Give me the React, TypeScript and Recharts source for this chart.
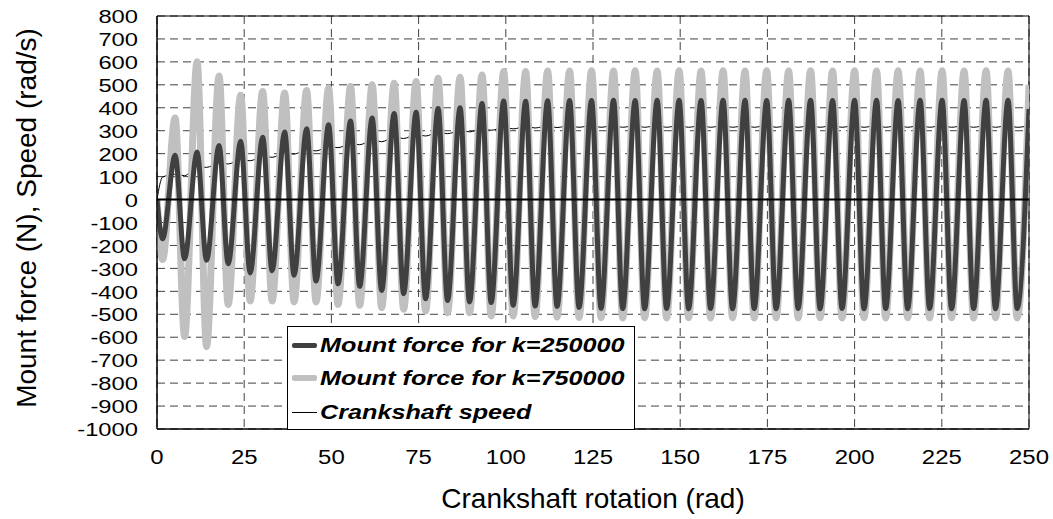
import React from 'react';
import {
  LineChart,
  Line,
  XAxis,
  YAxis,
  CartesianGrid,
  ReferenceLine,
  ReferenceArea,
  Legend,
  Label,
} from 'recharts';

// crank angle samples (rad): start, then trough / peak of each force cycle
const angles = [
  0,
  1.6, 5.2, 7.9, 11.5, 14.2, 17.8, 20.4, 24.0, 26.7, 30.3,
  33.0, 36.6, 39.3, 42.9, 45.6, 49.2, 51.9, 55.5, 58.1, 61.7,
  64.4, 68.0, 70.7, 74.3, 77.0, 80.6, 83.3, 86.9, 89.6, 93.2,
  95.8, 99.4, 102.1, 105.7, 108.4, 112.0, 114.7, 118.3, 121.0, 124.6,
  127.3, 130.9, 133.5, 137.1, 139.8, 143.4, 146.1, 149.7, 152.4, 156.0,
  158.7, 162.3, 165.0, 168.6, 171.2, 174.8, 177.5, 181.1, 183.8, 187.4,
  190.1, 193.7, 196.4, 200.0, 202.7, 206.3, 208.9, 212.5, 215.2, 218.8,
  221.5, 225.1, 227.8, 231.4, 234.1, 237.7, 240.4, 244.0, 246.6, 250,
];

// mount force, k = 250000 (N)
const forceK250 = [
  0,
  -171, 193, -258, 207, -265, 236, -280, 254, -320, 272,
  -310, 294, -330, 309, -355, 326, -367, 342, -378, 355,
  -396, 375, -410, 380, -432, 397, -440, 400, -446, 419,
  -449, 430, -461, 428, -464, 431, -466, 432, -470, 432,
  -474, 433, -475, 432, -476, 433, -475, 433, -476, 432,
  -475, 433, -476, 433, -475, 432, -476, 433, -475, 433,
  -476, 432, -475, 433, -476, 433, -475, 432, -476, 433,
  -475, 433, -476, 432, -475, 433, -476, 433, -475, 395,
];

// mount force, k = 750000 (N)
const forceK750 = [
  0,
  -261, 355, -597, 601, -641, 539, -457, 455, -442, 471,
  -442, 464, -446, 475, -446, 486, -457, 493, -461, 500,
  -471, 507, -478, 514, -486, 529, -493, 533, -493, 543,
  -507, 558, -507, 558, -510, 560, -512, 560, -514, 561,
  -515, 560, -516, 561, -515, 560, -516, 561, -515, 560,
  -516, 561, -515, 560, -516, 561, -515, 560, -516, 561,
  -515, 560, -516, 561, -515, 560, -516, 561, -515, 560,
  -516, 561, -515, 560, -516, 561, -515, 560, -516, 500,
];

// crankshaft speed (rad/s)
const crankSpeed = [
  0,
  98, 110, 104, 145, 140, 160, 155, 174, 169, 189,
  184, 203, 198, 217, 212, 231, 226, 244, 239, 258,
  252, 272, 266, 283, 277, 293, 287, 301, 295, 308,
  302, 314, 308, 318, 312, 321, 314, 322, 315, 323,
  315, 323, 315, 323, 315, 323, 315, 323, 315, 323,
  315, 323, 315, 323, 315, 323, 315, 323, 315, 323,
  315, 323, 315, 323, 315, 323, 315, 323, 315, 323,
  315, 323, 315, 323, 315, 323, 315, 323, 315, 322,
];

const xTicks = [0, 25, 50, 75, 100, 125, 150, 175, 200, 225, 250];
const yTicks = [
  -1000, -900, -800, -700, -600, -500, -400, -300, -200, -100,
  0, 100, 200, 300, 400, 500, 600, 700, 800,
];

const legendItems = [
  { label: 'Mount force for k=250000', color: '#404040', width: 5 },
  { label: 'Mount force for k=750000', color: '#c0c0c0', width: 6 },
  { label: 'Crankshaft speed', color: '#000000', width: 1 },
];

const FONT = '"Liberation Sans", Arial, sans-serif';

const data = angles.map((x, i) => ({
  x,
  k250: forceK250[i],
  k750: forceK750[i],
  speed: crankSpeed[i],
}));

const YTick = (props: any) => {
  const { y, payload } = props;
  return (
    <text
      transform={`translate(138,${y + 1}) scale(1.25,1)`}
      textAnchor="end"
      dominantBaseline="central"
      fontSize={19}
      fontFamily={FONT}
      fill="#000"
    >
      {payload.value}
    </text>
  );
};

const XTick = (props: any) => {
  const { x, payload } = props;
  return (
    <text
      transform={`translate(${x},457) scale(1.14,1)`}
      textAnchor="middle"
      dominantBaseline="central"
      fontSize={21}
      fontFamily={FONT}
      fill="#000"
    >
      {payload.value}
    </text>
  );
};

const renderLegend = () => (
  <div
    style={{
      position: 'relative',
      width: 348,
      height: 104,
      boxSizing: 'border-box',
      border: '1px solid #000',
      background: '#fff',
      fontFamily: FONT,
    }}
  >
    {legendItems.map((item, i) => {
      const center = [19, 52, 86][i];
      return (
        <React.Fragment key={item.label}>
          <div
            style={{
              position: 'absolute',
              left: 4,
              top: center - item.width / 2 - 1,
              width: 25,
              height: item.width,
              background: item.color,
              borderRadius: item.width > 2 ? 2 : 0,
            }}
          />
          <div
            style={{
              position: 'absolute',
              left: 32,
              top: center - 13,
              lineHeight: '24px',
              fontSize: 21,
              fontWeight: 'bold',
              fontStyle: 'italic',
              whiteSpace: 'nowrap',
              transform: 'scaleX(1.2)',
              transformOrigin: 'left center',
              color: '#000',
            }}
          >
            {item.label}
          </div>
        </React.Fragment>
      );
    })}
  </div>
);

const App: React.FC = () => {
  return (
    <div style={{ position: 'absolute', left: 0, top: 0, width: 1053, height: 519, background: '#fff' }}>
      <LineChart width={1053} height={519} data={data} margin={{ top: 16, right: 24, left: 0, bottom: 0 }}>
        <CartesianGrid stroke="#404040" strokeDasharray="8 5" />
        <XAxis
          dataKey="x"
          type="number"
          domain={[0, 250]}
          ticks={xTicks}
          interval={0}
          height={90}
          tick={<XTick />}
          tickLine={false}
          axisLine={{ stroke: '#000' }}
          allowDataOverflow
        >
          <Label
            content={() => (
              <text x={593} y={508} textAnchor="middle" fontSize={28} fontFamily={FONT} fill="#000">
                Crankshaft rotation (rad)
              </text>
            )}
          />
        </XAxis>
        <YAxis
          type="number"
          domain={[-1000, 800]}
          ticks={yTicks}
          interval={0}
          width={157}
          tick={<YTick />}
          tickLine={false}
          axisLine={{ stroke: '#000' }}
          allowDataOverflow
        >
          <Label
            content={() => (
              <text
                transform="translate(36,218) rotate(-90)"
                textAnchor="middle"
                fontSize={28}
                fontFamily={FONT}
                fill="#000"
              >
                Mount force (N), Speed (rad/s)
              </text>
            )}
          />
        </YAxis>
        <ReferenceArea x1={0} x2={250} y1={-1000} y2={800} fill="none" fillOpacity={0} stroke="#000" strokeWidth={1} />
        <Line type="monotone" dataKey="speed" stroke="#000" strokeWidth={1} dot={false} isAnimationActive={false} />
        <Line type="monotone" dataKey="k750" stroke="#c0c0c0" strokeWidth={7} dot={false} isAnimationActive={false} />
        <Line type="monotone" dataKey="k250" stroke="#404040" strokeWidth={5} dot={false} isAnimationActive={false} />
        <ReferenceLine y={0} stroke="#000" strokeWidth={2} />
        <Legend
          layout="horizontal"
          verticalAlign="middle"
          align="center"
          content={renderLegend}
          wrapperStyle={{ left: 287, top: 326, width: 348, height: 104 }}
        />
      </LineChart>
    </div>
  );
};

export default App;
